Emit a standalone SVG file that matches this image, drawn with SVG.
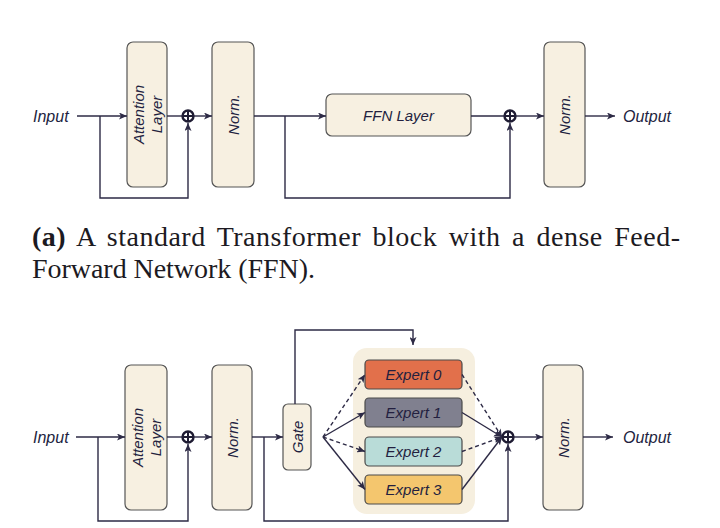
<svg xmlns="http://www.w3.org/2000/svg" width="720" height="528" viewBox="0 0 720 528">
<style>
.box{fill:#f7f0e1;stroke:#555;stroke-width:1.2}
.lbl{font-family:"Liberation Sans",Arial,sans-serif;font-style:italic;fill:#231f3f;font-size:15px}
.io{font-family:"Liberation Sans",Arial,sans-serif;font-style:italic;fill:#231f3f;font-size:16px}
.ln{fill:none;stroke:#2d2a45;stroke-width:1.4}
.dash{stroke-dasharray:4 3}
.cap{font-family:"Liberation Serif","Times New Roman",serif;font-size:28px;fill:#1c1a22}
.exp{stroke:#4a4a4a;stroke-width:1.2}
.plus{fill:#fff;stroke:#1f1c33;stroke-width:2.4}
.cross{fill:none;stroke:#1f1c33;stroke-width:2}
</style>
<defs>
<marker id="arr" viewBox="0 0 8 7" refX="8" refY="3.5" markerWidth="8" markerHeight="7" markerUnits="userSpaceOnUse" orient="auto">
<path d="M0,0 L8,3.5 L0,7 L2,3.5 z" fill="#2d2a45"/>
</marker>
</defs>
<rect width="720" height="528" fill="#ffffff"/>

<!-- (a) -->
<g id="a-input"><text class="io" x="33" y="122">Input</text></g>
<g id="a-attn"><rect class="box" x="127" y="42" width="40" height="145" rx="6"/>
<g transform="translate(147,114.5) rotate(-90)"><text class="lbl" text-anchor="middle" y="-3">Attention</text><text class="lbl" text-anchor="middle" y="15">Layer</text></g></g>
<g id="a-add1"><circle class="plus" cx="188" cy="116" r="5.5"/><path class="cross" d="M182.5,116 H193.5 M188,110.5 V121.5"/></g>
<g id="a-norm1"><rect class="box" x="212" y="42" width="42" height="145" rx="6"/>
<text class="lbl" text-anchor="middle" transform="translate(238.5,114.5) rotate(-90)">Norm.</text></g>
<g id="a-ffn"><rect class="box" x="326" y="94" width="145" height="42" rx="6"/>
<text class="lbl" x="398.5" y="120.5" text-anchor="middle">FFN Layer</text></g>
<g id="a-add2"><circle class="plus" cx="510" cy="116" r="5.5"/><path class="cross" d="M504.5,116 H515.5 M510,110.5 V121.5"/></g>
<g id="a-norm2"><rect class="box" x="544" y="42" width="41" height="145" rx="6"/>
<text class="lbl" text-anchor="middle" transform="translate(570,114.5) rotate(-90)">Norm.</text></g>
<g id="a-output"><text class="io" x="623" y="122">Output</text></g>

<g id="a-connectors">
<path class="ln" d="M77,116 H127" marker-end="url(#arr)"/>
<path class="ln" d="M100,116 V198 H188 V123" marker-end="url(#arr)"/>
<path class="ln" d="M167,116 H182.5"/>
<path class="ln" d="M193.5,116 H212" marker-end="url(#arr)"/>
<path class="ln" d="M254,116 H326" marker-end="url(#arr)"/>
<path class="ln" d="M285,116 V198 H510 V123" marker-end="url(#arr)"/>
<path class="ln" d="M471,116 H504.5"/>
<path class="ln" d="M515.5,116 H544" marker-end="url(#arr)"/>
<path class="ln" d="M585,116 H615" marker-end="url(#arr)"/>
</g>

<g id="caption">
<text class="cap" x="32" y="246" textLength="648" lengthAdjust="spacing" word-spacing="4"><tspan font-weight="bold">(a)</tspan> A standard Transformer block with a dense Feed-</text>
<text class="cap" x="32" y="278" textLength="283" lengthAdjust="spacing">Forward Network (FFN).</text>
</g>

<!-- (b) -->
<g id="b-input"><text class="io" x="33" y="443">Input</text></g>
<g id="b-attn"><rect class="box" x="125" y="365" width="42" height="145" rx="6"/>
<g transform="translate(146,437.5) rotate(-90)"><text class="lbl" text-anchor="middle" y="-3">Attention</text><text class="lbl" text-anchor="middle" y="15">Layer</text></g></g>
<g id="b-add1"><circle class="plus" cx="188" cy="437" r="5.5"/><path class="cross" d="M182.5,437 H193.5 M188,431.5 V442.5"/></g>
<g id="b-norm1"><rect class="box" x="212" y="365" width="40" height="145" rx="6"/>
<text class="lbl" text-anchor="middle" transform="translate(237.5,437.5) rotate(-90)">Norm.</text></g>
<g id="b-gate"><rect class="box" x="283" y="404" width="28" height="66" rx="5"/>
<text class="lbl" text-anchor="middle" transform="translate(302.5,437) rotate(-90)">Gate</text></g>
<g id="b-experts">
<rect x="353" y="348" width="122" height="166" rx="14" fill="#f6efdf"/>
<g id="expert0"><rect class="exp" x="365" y="360" width="97" height="29" rx="4" fill="#e2704b"/><text class="lbl" x="413.5" y="380" text-anchor="middle">Expert 0</text></g>
<g id="expert1"><rect class="exp" x="365" y="398" width="97" height="29" rx="4" fill="#80808f"/><text class="lbl" x="413.5" y="418" text-anchor="middle">Expert 1</text></g>
<g id="expert2"><rect class="exp" x="365" y="437" width="97" height="29" rx="4" fill="#b9dcd8"/><text class="lbl" x="413.5" y="457" text-anchor="middle">Expert 2</text></g>
<g id="expert3"><rect class="exp" x="365" y="475" width="97" height="29" rx="4" fill="#f4c66e"/><text class="lbl" x="413.5" y="495" text-anchor="middle">Expert 3</text></g>
</g>
<g id="b-add2"><circle class="plus" cx="508" cy="437" r="5.5"/><path class="cross" d="M502.5,437 H513.5 M508,431.5 V442.5"/></g>
<g id="b-norm2"><rect class="box" x="543" y="365" width="40" height="145" rx="6"/>
<text class="lbl" text-anchor="middle" transform="translate(568.5,437.5) rotate(-90)">Norm.</text></g>
<g id="b-output"><text class="io" x="623" y="443">Output</text></g>

<g id="b-connectors">
<path class="ln" d="M76,437 H125" marker-end="url(#arr)"/>
<path class="ln" d="M98,437 V521 H188 V444" marker-end="url(#arr)"/>
<path class="ln" d="M167,437 H182.5"/>
<path class="ln" d="M193.5,437 H212" marker-end="url(#arr)"/>
<path class="ln" d="M252,437 H283" marker-end="url(#arr)"/>
<path class="ln" d="M264,437 V521 H508 V444" marker-end="url(#arr)"/>
<path class="ln" d="M295,404 V330 H413 V345" marker-end="url(#arr)"/>
<path class="ln dash" d="M323,437 L365,374.5" marker-end="url(#arr)"/>
<path class="ln" d="M323,437 L365,412.5" marker-end="url(#arr)"/>
<path class="ln dash" d="M323,437 L365,451.5" marker-end="url(#arr)"/>
<path class="ln" d="M323,437 L365,489.5" marker-end="url(#arr)"/>
<path class="ln dash" d="M462,374.5 L502,437" marker-end="url(#arr)"/>
<path class="ln" d="M462,412.5 L502,437" marker-end="url(#arr)"/>
<path class="ln dash" d="M462,451.5 L502,437" marker-end="url(#arr)"/>
<path class="ln" d="M462,489.5 L502,437" marker-end="url(#arr)"/>
<path class="ln" d="M513.5,437 H543" marker-end="url(#arr)"/>
<path class="ln" d="M583,437 H613" marker-end="url(#arr)"/>
</g>
</svg>
